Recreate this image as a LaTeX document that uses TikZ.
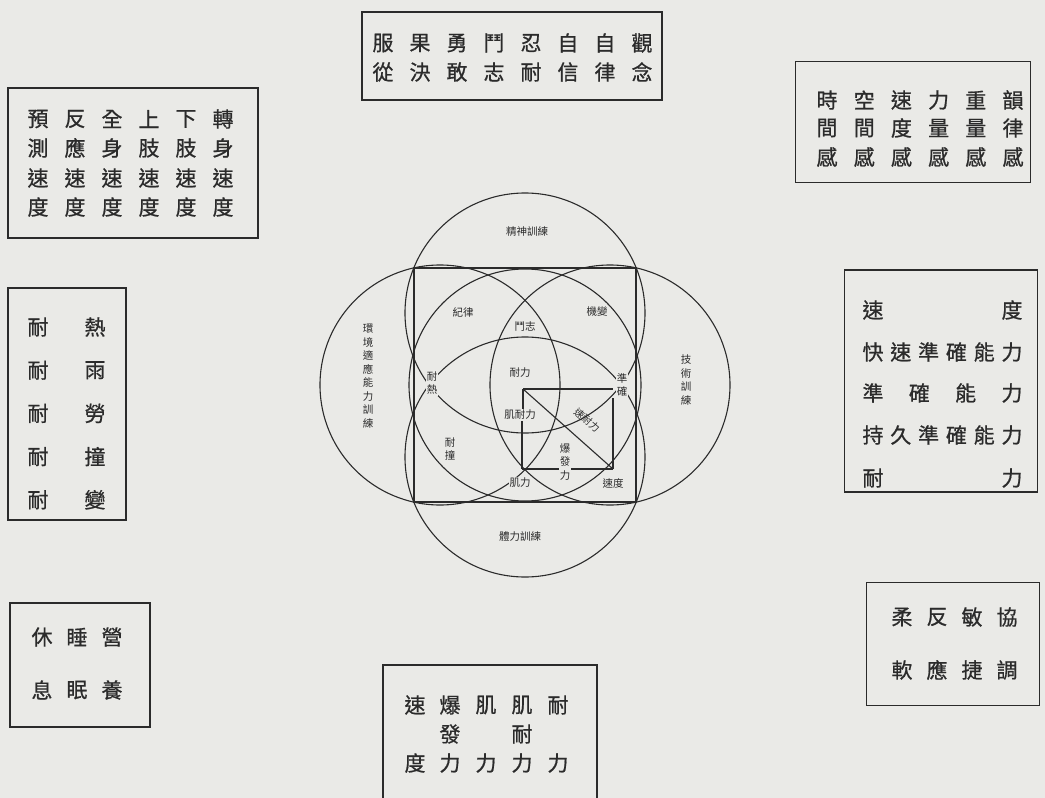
\documentclass[tikz,border=0pt]{standalone}
\usepackage{fontspec}
\newfontfamily\cjk{Noto Sans CJK TC}
\newfontfamily\cjkb[FakeBold=0.8]{Noto Sans CJK TC}
\definecolor{paper}{HTML}{EAEAE7}
\definecolor{ink}{HTML}{2B2B2B}
\begin{document}
\begin{tikzpicture}[x=1pt,y=-1pt,
  box/.style={draw=ink,line width=1.8pt,inner sep=0pt},
  ch/.style={font=\cjkb\fontsize{21}{21}\selectfont,text=ink,inner sep=0pt},
  lab/.style={font=\cjk\fontsize{10.5}{13.5}\selectfont,text=ink,inner sep=1pt,fill=paper,align=center},
  ring/.style={circle,draw=ink,line width=1.1pt,inner sep=0pt},
  ln/.style={draw=ink,line width=1.1pt}]
\fill[paper] (0,0) rectangle (1045,798);
\useasboundingbox (0,0) rectangle (1045,798);

% ---------- boxes ----------
\node[box,minimum width=300pt,minimum height=88pt] (bTop) at (512,56) {};
\node[box,minimum width=250pt,minimum height=150pt] (bTL) at (133,163) {};
\node[box,minimum width=235pt,minimum height=121pt] (bTR) at (913,122) {};
\node[box,minimum width=118pt,minimum height=232pt] (bL) at (67,404) {};
\node[box,minimum width=193pt,minimum height=222pt] (bR) at (941,381) {};
\node[box,minimum width=140pt,minimum height=124pt] (bBL) at (80,665) {};
\node[box,minimum width=214pt,minimum height=150pt] (bB) at (490,740) {};
\node[box,minimum width=173pt,minimum height=123pt] (bBR) at (953,644) {};

% top box
\foreach \c [count=\i] in {服,果,勇,鬥,忍,自,自,觀}
  \node[ch] (ta\i) at ({383+37*(\i-1)},43) {\c};
\foreach \c [count=\i] in {從,決,敢,志,耐,信,律,念}
  \node[ch] (tb\i) at ({383+37*(\i-1)},72) {\c};
% top-left box
\foreach \c [count=\i] in {預,反,全,上,下,轉}
  \node[ch] (la\i) at ({38+37*(\i-1)},119) {\c};
\foreach \c [count=\i] in {測,應,身,肢,肢,身}
  \node[ch] (lb\i) at ({38+37*(\i-1)},148) {\c};
\foreach \c [count=\i] in {速,速,速,速,速,速}
  \node[ch] (lc\i) at ({38+37*(\i-1)},178) {\c};
\foreach \c [count=\i] in {度,度,度,度,度,度}
  \node[ch] (ld\i) at ({38+37*(\i-1)},207) {\c};
% top-right box
\foreach \c [count=\i] in {時,空,速,力,重,韻}
  \node[ch] (ra\i) at ({827+37.2*(\i-1)},100) {\c};
\foreach \c [count=\i] in {間,間,度,量,量,律}
  \node[ch] (rb\i) at ({827+37.2*(\i-1)},128) {\c};
\foreach \c [count=\i] in {感,感,感,感,感,感}
  \node[ch] (rc\i) at ({827+37.2*(\i-1)},157) {\c};
% left box
\foreach \a/\b [count=\i] in {耐/熱,耐/雨,耐/勞,耐/撞,耐/變}{
  \node[ch] (ea\i) at (38,{327+43.2*(\i-1)}) {\a};
  \node[ch] (eb\i) at (95,{327+43.2*(\i-1)}) {\b};}
% right box
\node[ch] (m1a) at (873,310) {速};
\node[ch] (m1b) at (1012,310) {度};
\foreach \c [count=\i] in {快,速,準,確,能,力}
  \node[ch] (m2\i) at ({873+27.8*(\i-1)},352) {\c};
\foreach \c [count=\i] in {準,確,能,力}
  \node[ch] (m3\i) at ({873+46.33*(\i-1)},393) {\c};
\foreach \c [count=\i] in {持,久,準,確,能,力}
  \node[ch] (m4\i) at ({873+27.8*(\i-1)},435) {\c};
\node[ch] (m5a) at (873,478) {耐};
\node[ch] (m5b) at (1012,478) {力};
% bottom-left box
\foreach \c [count=\i] in {休,睡,營}
  \node[ch] (sa\i) at ({42+35*(\i-1)},637) {\c};
\foreach \c [count=\i] in {息,眠,養}
  \node[ch] (sb\i) at ({42+35*(\i-1)},690) {\c};
% bottom box
\node[ch] (u11) at (415,705) {速};
\node[ch] (u13) at (415,763) {度};
\node[ch] (u21) at (450,705) {爆};
\node[ch] (u22) at (450,734) {發};
\node[ch] (u23) at (450,763) {力};
\node[ch] (u31) at (486,705) {肌};
\node[ch] (u33) at (486,763) {力};
\node[ch] (u41) at (522,705) {肌};
\node[ch] (u42) at (522,734) {耐};
\node[ch] (u43) at (522,763) {力};
\node[ch] (u51) at (558,705) {耐};
\node[ch] (u53) at (558,763) {力};
% bottom-right box
\foreach \c [count=\i] in {柔,反,敏,協}
  \node[ch] (va\i) at ({902+35*(\i-1)},617) {\c};
\foreach \c [count=\i] in {軟,應,捷,調}
  \node[ch] (vb\i) at ({902+35*(\i-1)},670) {\c};

% ---------- circle diagram ----------
\node[ring,minimum size=240pt] (cT) at (525,313) {};
\node[ring,minimum size=240pt] (cL) at (440,385) {};
\node[ring,minimum size=240pt] (cR) at (610,385) {};
\node[ring,minimum size=240pt] (cB) at (525,457) {};
\node[ring,minimum size=232pt] (cC) at (525,385) {};
\node[draw=ink,line width=1.3pt,minimum width=222pt,minimum height=234pt,inner sep=0pt] (sq) at (525,385) {};

\coordinate (P) at (523,389);
\coordinate (Q) at (613,389);
\coordinate (Q2) at (613,398);
\coordinate (S) at (613,469);
\coordinate (M) at (522,469);

\node[lab] (jnl) at (520,415) {肌耐力};
\draw[ln] (P) -- (Q);
\draw[ln] (Q2) -- (S);
\draw[ln] (P) -- (S);
\draw[ln] (P) -- (P |- jnl.north);
\draw[ln] (jnl.south -| M) -- (M);
\draw[ln] (M) -- (S);

\node[lab,fill=none] (jingshen) at (527,232) {精神訓練};
\node[lab,fill=none] (tineng) at (520,537) {體力訓練};
\node[lab] (shiying) at (368,376) {環\\境\\適\\應\\能\\力\\訓\\練};
\node[lab,fill=none] (jishu) at (686,380) {技\\術\\訓\\練};
\node[lab] (jilv) at (463,312) {紀律};
\node[lab] (jibian) at (597,312) {機變};
\node[lab] (douzhi) at (525,327) {鬥志};
\node[lab] (naili) at (520,373) {耐力};
\node[lab] (naire) at (432,383) {耐\\熱};
\node[lab] (zq) at (622,385) {準\\確};
\node[lab,fill=none,inner sep=0pt,font=\cjk\fontsize{10}{10}\selectfont,rotate=-40] (sunl) at (587,420) {速耐力};
\node[lab] (naizhuang) at (450,449) {耐\\撞};
\node[lab] (baofa) at (565,462) {爆\\發\\力};
\node[lab] (jili) at (520,483) {肌力};
\node[lab] (sudu) at (613,483) {速度};
\end{tikzpicture}
\end{document}
